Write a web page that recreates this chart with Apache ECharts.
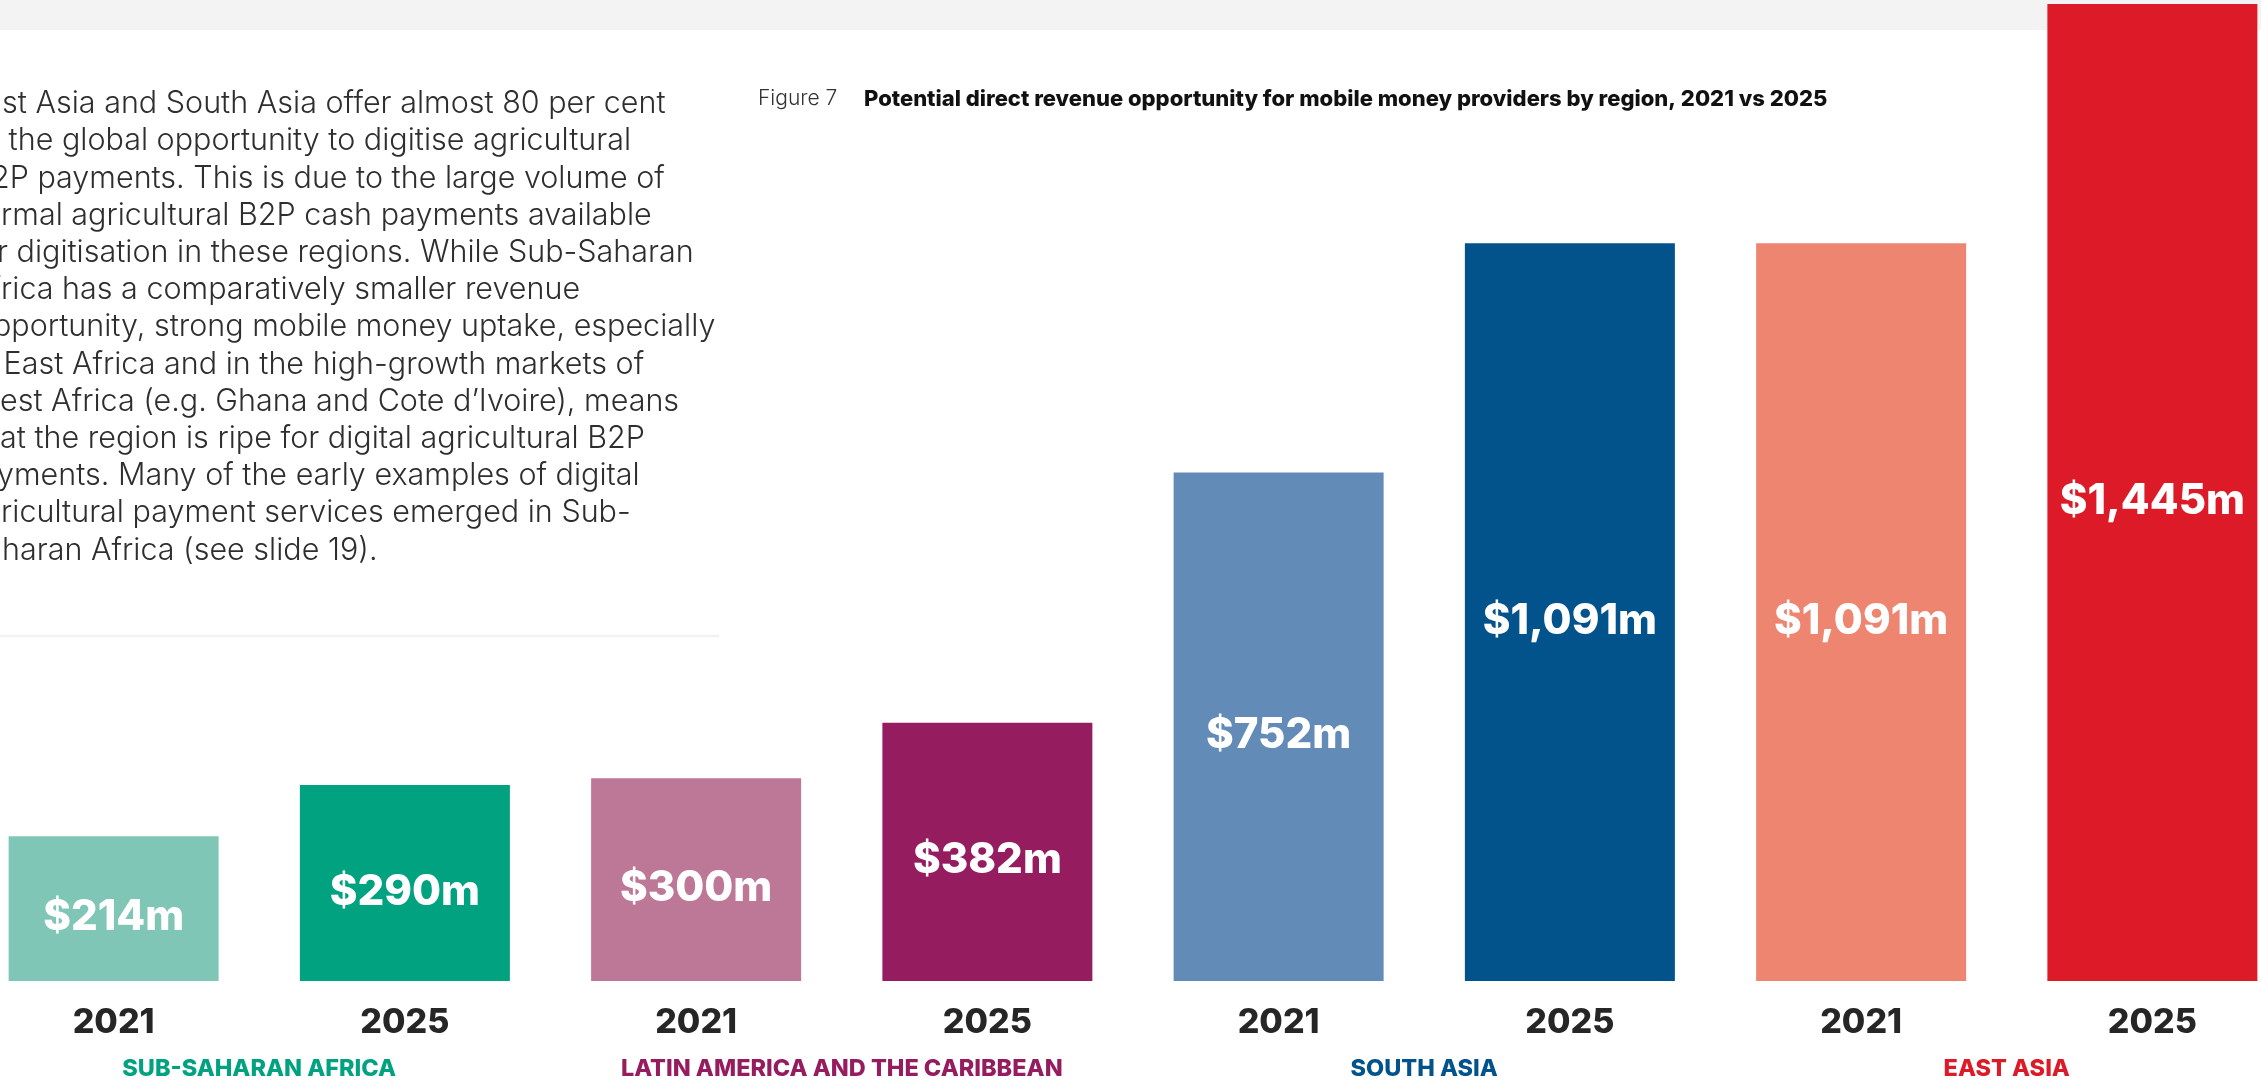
<!DOCTYPE html>
<html>
<head>
<meta charset="utf-8">
<title>Potential direct revenue opportunity for mobile money providers by region</title>
<script src="https://cdn.jsdelivr.net/npm/echarts@6/dist/echarts.min.js"></script>
<style>
  html, body { margin: 0; padding: 0; background: #ffffff; overflow: hidden; width: 2261px; height: 1081px; }
  /* The plot runs slightly past both page edges, so the canvas is a little wider than the page */
  #chart { position: fixed; left: -32px; top: 0; width: 2330px; height: 1081px; }
</style>
</head>
<body>
<div id="chart"></div>
<script>
// Regions and the two years compared
const regions = ['SUB-SAHARAN AFRICA', 'LATIN AMERICA AND THE CARIBBEAN', 'SOUTH ASIA', 'EAST ASIA'];
const years = ['2021', '2025'];

// Revenue opportunity, US$ millions
const revenue2021 = [214, 300, 752, 1091];
const revenue2025 = [290, 382, 1091, 1445];

// Palette: light shade for 2021, full shade for 2025, and region label colour
const shade2021 = ['#80c6b6', '#bd7797', '#638bb7', '#ed8571'];
const shade2025 = ['#00a27f', '#951c5f', '#02528c', '#dd1a27'];
const regionColor = ['#00a27f', '#951c5f', '#02528c', '#dd1a27'];

// Accompanying paragraph, each line split into the part running off the left edge and the rest
const bodyLines = [
  ['Ea', 'st Asia and South Asia offer almost 80 per cent', 2],
  ['of', ' the global opportunity to digitise agricultural', 0],
  ['B', '2P payments. This is due to the large volume of', -9],
  ['info', 'rmal agricultural B2P cash payments available', 1],
  ['fo', 'r digitisation in these regions. While Sub-Saharan', -3],
  ['Af', 'rica has a comparatively smaller revenue', 1],
  ['o', 'pportunity, strong mobile money uptake, especially', -7],
  ['in', ' East Africa and in the high-growth markets of', -5],
  ['W', 'est Africa (e.g. Ghana and Cote d\u2019Ivoire), means', 0],
  ['th', 'at the region is ripe for digital agricultural B2P', 0],
  ['pa', 'yments. Many of the early examples of digital', -3],
  ['ag', 'ricultural payment services emerged in Sub-', 1],
  ['Sa', 'haran Africa (see slide 19).', 2]
];

const BOLD = 'Inter, "Noto Sans", sans-serif';
const LIGHT = 'Inter, "Noto Sans", sans-serif';
const SHIFT = 32; // canvas starts this far left of the page

// One bar per region/year pair, in region order
const categories = [];
const barData = [];
regions.forEach(function (r, i) {
  [revenue2021[i], revenue2025[i]].forEach(function (v, k) {
    categories.push(r + '|' + years[k]);
    barData.push({ value: v, itemStyle: { color: k === 0 ? shade2021[i] : shade2025[i] } });
  });
});

function money(v) {
  return '$' + v.toString().replace(/\B(?=(\d{3})+(?!\d))/g, ',') + 'm';
}

// Paragraph text elements
const bodyGraphics = [];
const lineTop = 104, linePitch = 37.2;
const bodyFont = '300 30.5px ' + LIGHT;
bodyLines.forEach(function (ln, i) {
  const y = lineTop + i * linePitch;
  bodyGraphics.push({
    type: 'text', x: SHIFT + ln[2], y: y, silent: true,
    style: { text: ln[0], align: 'right', verticalAlign: 'middle', fill: '#2e2e2e', font: bodyFont }
  });
  bodyGraphics.push({
    type: 'text', x: SHIFT + ln[2], y: y, silent: true,
    style: { text: ln[1], align: 'left', verticalAlign: 'middle', fill: '#2e2e2e', font: bodyFont }
  });
});

const chart = echarts.init(document.getElementById('chart'), null, { renderer: 'canvas', width: 2330, height: 1081 });

chart.setOption({
  animation: false,
  backgroundColor: '#ffffff',
  title: {
    left: SHIFT + 758,
    top: 86,
    padding: 0,
    text: '{fig|Figure 7}{main|Potential direct revenue opportunity for mobile money providers by region, 2021 vs 2025}',
    textStyle: {
      rich: {
        fig: { width: 106, fontSize: 21, fontWeight: 300, fontFamily: LIGHT, color: '#333333', lineHeight: 26 },
        main: { fontSize: 22, fontWeight: 800, fontFamily: BOLD, color: '#111111', lineHeight: 26 }
      }
    }
  },
  grid: { left: 0, right: 0, top: 4, bottom: 96, containLabel: false },
  xAxis: [
    {
      type: 'category',
      data: categories,
      axisLine: { show: false },
      axisTick: { show: false },
      axisLabel: {
        interval: 0,
        margin: 42,
        verticalAlign: 'middle',
        fontSize: 34,
        fontWeight: 800,
        fontFamily: BOLD,
        color: '#262626',
        formatter: function (v) { return v.split('|')[1]; }
      }
    },
    {
      type: 'category',
      data: regions,
      position: 'bottom',
      axisLine: { show: false },
      axisTick: { show: false },
      axisLabel: {
        interval: 0,
        margin: 88,
        verticalAlign: 'middle',
        fontSize: 23.5,
        fontWeight: 800,
        fontFamily: BOLD,
        color: function (v, i) { return regionColor[i]; }
      }
    }
  ],
  yAxis: { type: 'value', min: 0, max: 1445, show: false, splitLine: { show: false } },
  series: [{
    type: 'bar',
    xAxisIndex: 0,
    data: barData,
    barWidth: 210,
    label: {
      show: true,
      position: 'inside',
      offset: [0, 9],
      color: '#ffffff',
      fontSize: 42,
      fontWeight: 800,
      fontFamily: BOLD,
      formatter: function (p) { return money(p.value); }
    }
  }],
  graphic: [
    { type: 'rect', silent: true, z: -1, shape: { x: 0, y: 0, width: 2330, height: 30 }, style: { fill: '#f3f3f3' } },
    { type: 'line', silent: true, shape: { x1: 0, y1: 636, x2: SHIFT + 719, y2: 636 }, style: { stroke: '#f1f1f1', lineWidth: 2.5 } }
  ].concat(bodyGraphics)
});
</script>
</body>
</html>
